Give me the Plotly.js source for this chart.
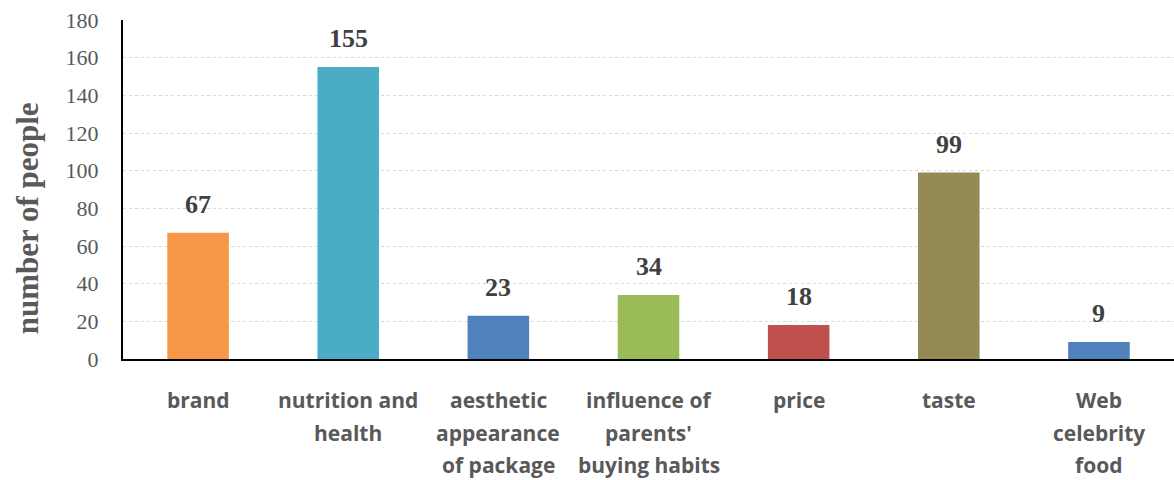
<!DOCTYPE html>
<html><head><meta charset="utf-8">
<script src="https://cdn.plot.ly/plotly-3.0.1.min.js"></script>
<style>html,body{margin:0;padding:0;background:#fff}#chart{width:1174px;height:480px}</style>
</head><body><div id="chart"></div>
<script>
const categories = ["brand", "nutrition and health", "aesthetic appearance of package", "influence of parents' buying habits", "price", "taste", "Web celebrity food"];
const tickLabels = ["brand", "nutrition and<br>health", "aesthetic<br>appearance<br>of package", "influence of<br>parents'<br>buying habits", "price", "taste", "Web<br>celebrity<br>food"];
const values = [67, 155, 23, 34, 18, 99, 9];
const barColors = ["#F79646", "#4BACC6", "#4F81BD", "#9BBB59", "#C0504D", "#948A54", "#4F81BD"];
const yTitle = "number of people";

const trace = {
  type: "bar",
  x: categories,
  y: values,
  marker: {color: barColors},
  hoverinfo: "x+y"
};

const annotations = categories.map((c, i) => ({
  x: c, y: values[i], xref: "x", yref: "y",
  text: "<b>" + values[i] + "</b>",
  showarrow: false, yanchor: "bottom", yshift: 12,
  font: {family: "Liberation Serif, Times New Roman, serif", size: 26, color: "#404040"}
}));

// category labels, one annotation per line for Excel-like line spacing
categories.forEach((c, i) => {
  tickLabels[i].split("<br>").forEach((line, k) => {
    annotations.push({
      x: c, y: 0, xref: "x", yref: "paper",
      text: line, showarrow: false, yanchor: "middle", borderpad: 0,
      yshift: -41 - 32.5 * k,
      font: {family: "Open Sans, Liberation Sans, sans-serif", size: 21, color: "#595959", weight: "bold"}
    });
  });
});

// y-axis title (placed like the Excel original, slightly below centre)
annotations.push({
  x: 0, y: 0.415, xref: "paper", yref: "paper",
  xanchor: "center", yanchor: "middle", xshift: -96,
  text: "<b>" + yTitle + "</b>", textangle: -90, showarrow: false,
  font: {family: "Liberation Serif, Times New Roman, serif", size: 31, color: "#595959"}
});

const layout = {
  width: 1174, height: 480,
  margin: {l: 123, r: 0, t: 20, b: 121},
  paper_bgcolor: "#fff", plot_bgcolor: "#fff",
  showlegend: false,
  bargap: 0.59,
  xaxis: {
    type: "category",
    showticklabels: false,
    showline: true, linecolor: "#000", linewidth: 2,
    ticks: "", showgrid: false
  },
  yaxis: {
    range: [0, 180], dtick: 20, tick0: 0,
    tickfont: {family: "Liberation Serif, Times New Roman, serif", size: 22, color: "#595959"},
    showline: true, linecolor: "#000", linewidth: 2,
    ticks: "", ticklabelstandoff: 18,
    showgrid: true, gridcolor: "#d6d6d6", griddash: "dot", gridwidth: 1,
    zeroline: false
  },
  annotations: annotations
};

Plotly.newPlot("chart", [trace], layout, {displayModeBar: false, staticPlot: true});
</script></body></html>
